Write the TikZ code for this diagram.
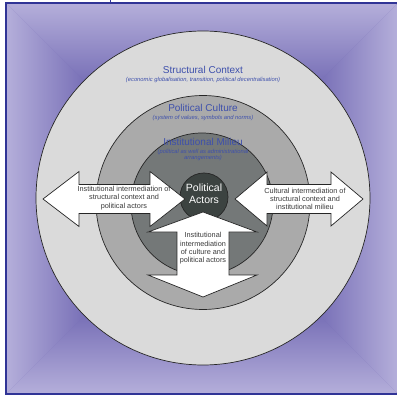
\documentclass[tikz,border=0pt]{standalone}
\usepackage{fontspec}
\setmainfont{Liberation Sans}
\definecolor{bgLight}{RGB}{180,174,218}
\definecolor{bgDark}{RGB}{122,114,184}
\definecolor{frameBlue}{RGB}{48,52,150}
\definecolor{ringA}{RGB}{218,218,218}
\definecolor{ringB}{RGB}{170,170,170}
\definecolor{ringC}{RGB}{116,120,120}
\definecolor{ringD}{RGB}{60,67,65}
\definecolor{titleBlue}{RGB}{62,80,172}
\definecolor{arrowText}{RGB}{58,58,58}
\tikzset{
  ring/.style={circle, draw=black!85, line width=0.7pt, inner sep=0pt},
  bigarrow/.style={fill=white, draw=black!85, line width=0.7pt, line join=miter},
  title/.style={text=titleBlue, font=\fontsize{10}{12}\selectfont, inner sep=0pt},
  subtitle/.style={text=titleBlue, font=\fontsize{5.8}{6.4}\selectfont\itshape, inner sep=0pt, align=center},
  arrowlabel/.style={text=arrowText, font=\fontsize{7.3}{8.3}\selectfont, inner sep=0pt, align=center}
}
\begin{document}
\begin{tikzpicture}[x=1pt,y=-1pt]
\useasboundingbox (0,0) rectangle (397,396);
% background box gradient
\fill[bgDark] (7,4) rectangle (397,393);
\shade[top color=bgLight, bottom color=bgDark] (7,4) -- (397,4) -- (322,79) -- (82,79) -- cycle;
\shade[top color=bgDark, bottom color=bgLight] (7,393) -- (397,393) -- (322,318) -- (82,318) -- cycle;
\shade[left color=bgLight, right color=bgDark] (7,4) -- (82,79) -- (82,318) -- (7,393) -- cycle;
\shade[left color=bgDark, right color=bgLight] (397,4) -- (322,79) -- (322,318) -- (397,393) -- cycle;
% frame
\draw[frameBlue, line width=2pt] (6,3) rectangle (402,394);
\draw[frameBlue, line width=0.8pt] (110,0) -- (110,3);
% rings
\node[ring, fill=ringA, minimum size=334pt] (structural) at (203,198) {};
\node[ring, fill=ringB, minimum size=214pt] (culture) at (203,202.5) {};
\node[ring, fill=ringC, minimum size=142pt] (milieu) at (202,204) {};
\node[ring, fill=ringD, minimum size=48pt] (actors) at (204,197) {};
% arrows
\draw[bigarrow] (43,199) -- (79,171.5) -- (79,184.5) -- (150,184.5) -- (150,171.5) -- (185,199)
  -- (150,226.5) -- (150,213.5) -- (79,213.5) -- (79,226.5) -- cycle;
\draw[bigarrow] (235,199) -- (267,172) -- (267,184.5) -- (331,184.5) -- (331,172) -- (363,199)
  -- (331,226) -- (331,213.5) -- (267,213.5) -- (267,226) -- cycle;
\draw[bigarrow] (203,212) -- (257,232) -- (229,232) -- (229,275) -- (257,275) -- (203,297)
  -- (148,275) -- (177,275) -- (177,232) -- (148,232) -- cycle;
% titles
\node[title] (t1) at (203,70) {Structural Context};
\node[subtitle] (s1) at (203,80.5) {(economic globalisation, transition, political decentralisation)};
\node[title] (t2) at (203,108) {Political Culture};
\node[subtitle] (s2) at (203,118) {(system of values, symbols and norms)};
\node[title] (t3) at (203,142) {Institutional Milieu};
\node[subtitle] (s3) at (203,155) {(political as well as administrational\\arrangements)};
\node[text=white, font=\fontsize{10.5}{12}\selectfont, align=center, inner sep=0pt] (pa) at (204,194) {Political\\Actors};
% arrow labels
\node[arrowlabel] (la) at (124,198) {Institutional intermediation of\\structural context and\\political actors};
\node[arrowlabel] (ra) at (305,199) {Cultural intermediation of\\structural context and\\institutional milieu};
\node[arrowlabel] (ba) at (203,248.5) {Institutional\\intermediation\\of culture and\\political actors};
\end{tikzpicture}
\end{document}
